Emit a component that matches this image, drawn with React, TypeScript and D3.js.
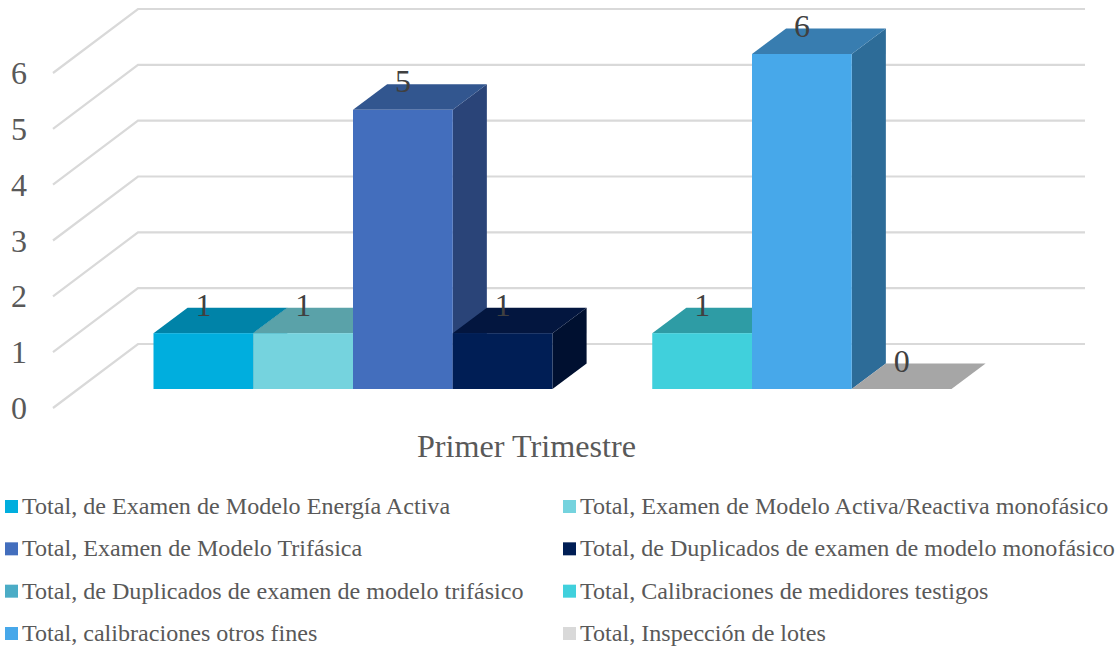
import * as d3 from "d3";

const W = 1118;
const H = 648;

const seriesNames = [
  "Total, de Examen de Modelo Energía Activa",
  "Total, Examen de Modelo Activa/Reactiva monofásico",
  "Total, Examen de Modelo Trifásica",
  "Total, de Duplicados de examen de modelo monofásico",
  "Total, de Duplicados de examen de modelo trifásico",
  "Total, Calibraciones de medidores testigos",
  "Total, calibraciones otros fines",
  "Total, Inspección de lotes",
];
const seriesValues = [1, 1, 5, 1, null, 1, 6, 0];
const frontColors = ["#00aede", "#75d3de", "#436ebd", "#001e55", "#4bacc6", "#40d0dc", "#47a8ea", "#d9d9d9"];
const topColors = ["#0083a8", "#5aa2a9", "#32568f", "#03163f", "#388293", "#2e9ca5", "#387db0", "#a6a6a6"];
const sideColors = ["#006f8f", "#4d8a90", "#2a4478", "#001030", "#2d6f80", "#27858d", "#2d6c98", "#8c8c8c"];
const yTicks = [0, 1, 2, 3, 4, 5, 6];
const categoryName = "Primer Trimestre";

const serif = "'Liberation Serif', 'Times New Roman', serif";

const x = d3.scaleBand<number>().domain(d3.range(seriesNames.length)).range([153.5, 951.5]);
const y = d3.scaleLinear().domain([0, 6]).range([389, 54]);

// oblique projection, depth is measured from the bars' front plane
const depthX = d3.scaleLinear().domain([-19, 45]).range([-25, 60]);
const depthY = (d: number) => -d;
const barDepth = 25.5;

const legendCol = d3.scaleOrdinal<number, number>().domain([0, 1]).range([5, 563]);
const legendRow = d3.scaleLinear().domain([0, 3]).range([506, 633]);

const pts = (list: [number, number][]) => list.map((p) => p.join(",")).join(" ");

export default function App() {
  const bw = x.bandwidth();
  const dx = depthX(barDepth);
  const dy = depthY(barDepth);
  const frontX = depthX(-19);
  const backX = depthX(45);
  const wallLeft = 78 + backX;

  return (
    <svg width={W} height={H} viewBox={`0 0 ${W} ${H}`} style={{ position: "absolute", left: 0, top: 0, background: "#fff" }}>
      {yTicks.map((t) => (
        <g key={t}>
          <polyline
            points={pts([
              [78 + frontX, y(t) + 19],
              [wallLeft, y(t) - 45],
              [1085, y(t) - 45],
            ])}
            fill="none"
            stroke="#d9d9d9"
            strokeWidth={2.2}
          />
          <text
            x={19}
            y={y(t) + 19 + 11}
            textAnchor="middle"
            fontFamily={serif}
            fontSize={32}
            fill="#595959"
          >
            {t}
          </text>
        </g>
      ))}

      {seriesValues.map((v, i) => {
        if (v === null) return null;
        const x0 = x(i)!;
        const x1 = x0 + bw;
        const yt = y(v);
        const yb = y(0);
        return (
          <g key={i}>
            {v > 0 && (
              <polygon
                points={pts([
                  [x1, yt],
                  [x1 + dx, yt + dy],
                  [x1 + dx, yb + dy],
                  [x1, yb],
                ])}
                fill={sideColors[i]}
              />
            )}
            <polygon
              points={pts([
                [x0, yt],
                [x0 + dx, yt + dy],
                [x1 + dx, yt + dy],
                [x1, yt],
              ])}
              fill={topColors[i]}
            />
            {v > 0 && <rect x={x0} y={yt} width={bw} height={yb - yt} fill={frontColors[i]} />}
          </g>
        );
      })}

      {seriesValues.map((v, i) =>
        v === null ? null : (
          <text
            key={i}
            x={x(i)! + bw / 2}
            y={y(v) + dy + 8}
            textAnchor="middle"
            fontFamily={serif}
            fontSize={32}
            fill="#404040"
          >
            {v}
          </text>
        )
      )}

      <text x={526.5} y={457} textAnchor="middle" fontFamily={serif} fontSize={32.2} fill="#595959">
        {categoryName}
      </text>

      {seriesNames.map((name, i) => {
        const cx = legendCol(i % 2);
        const cy = legendRow(Math.floor(i / 2));
        return (
          <g key={name}>
            <rect x={cx} y={cy - 6} width={13} height={13} fill={frontColors[i]} />
            <text x={cx + 17} y={cy + 8} fontFamily={serif} fontSize={24.1} fill="#595959">
              {name}
            </text>
          </g>
        );
      })}
    </svg>
  );
}
